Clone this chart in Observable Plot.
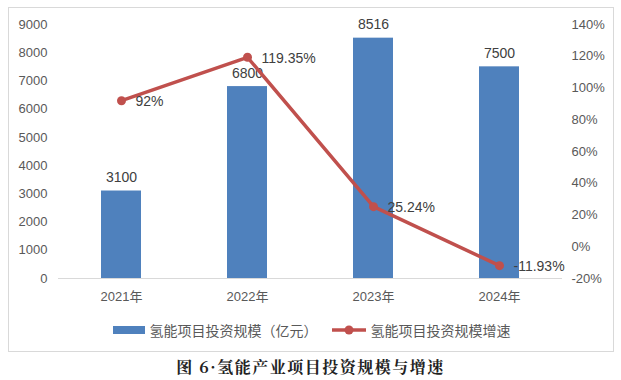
<!DOCTYPE html>
<html><head><meta charset="utf-8">
<script src="https://cdn.jsdelivr.net/npm/d3@7"></script>
<script src="https://cdn.jsdelivr.net/npm/@observablehq/plot@0.6"></script>
<style>
body{margin:0;background:#fff;font-family:"Liberation Sans","Noto Sans CJK SC",sans-serif;}
#wrap{position:relative;width:621px;height:380px;overflow:hidden;}
#frame{position:absolute;left:8px;top:7px;width:606px;height:345px;border:1px solid #d9d9d9;box-sizing:border-box;}
#chart{position:absolute;left:0;top:0;}
#legend{position:absolute;left:0;top:320px;width:621px;display:flex;justify-content:center;align-items:center;font-size:14px;color:#595959;font-family:"Noto Sans CJK SC",sans-serif;}
#legend .item{display:flex;align-items:center;margin:0 6px;}
#caption{position:absolute;left:0;top:355px;width:621px;text-align:center;font-size:16px;font-weight:bold;color:#222;font-family:"Noto Serif CJK SC",serif,"Noto Sans CJK SC";letter-spacing:1.5px;}
</style></head>
<body>
<div id="wrap">
  <div id="frame"></div>
  <div id="chart"></div>
  <div id="legend"></div>
  <div id="caption">图 6·氢能产业项目投资规模与增速</div>
</div>
<script>
const years = ["2021年","2022年","2023年","2024年"];
const investment = [3100, 6800, 8516, 7500];
const growth = [92, 119.35, 25.24, -11.93];
const growthLabels = ["92%","119.35%","25.24%","-11.93%"];
const leftTicks = [0,1000,2000,3000,4000,5000,6000,7000,8000,9000];
const rightTicks = [-20,0,20,40,60,80,100,120,140];
const seriesNames = ["氢能项目投资规模（亿元）","氢能项目投资规模增速"];

const barColor = "#4F81BD", lineColor = "#C0504D";
const yMax = 9000, pMin = -20, pMax = 140;
const toY = p => (p - pMin) / (pMax - pMin) * yMax;
const fromY = v => Math.round(v / yMax * (pMax - pMin) + pMin);

const data = years.map((y, i) => ({year: y, inv: investment[i], g: growth[i], gy: toY(growth[i]), gl: growthLabels[i]}));

const chart = Plot.plot({
  width: 621, height: 310,
  marginTop: 24, marginBottom: 32, marginLeft: 58, marginRight: 59,
  style: {fontFamily: '"Liberation Sans","Noto Sans CJK SC",sans-serif', fontSize: "13px", color: "#595959", background: "transparent"},
  x: {domain: years, paddingInner: 0.68, paddingOuter: 0.34},
  y: {domain: [0, yMax]},
  marks: [
    Plot.axisY(leftTicks, {anchor: "left", tickSize: 0, tickPadding: 11, label: null, fontSize: 13, tickFormat: d => String(d)}),
    Plot.axisY(rightTicks.map(toY), {anchor: "right", tickSize: 0, tickPadding: 9, label: null, fontSize: 13, tickFormat: d => fromY(d) + "%"}),
    Plot.axisX({tickSize: 0, tickPadding: 13, label: null, fontSize: 13}),
    Plot.barY(data, {x: "year", y: "inv", fill: barColor}),
    Plot.ruleY([0], {stroke: "#d9d9d9", strokeWidth: 1}),
    Plot.text(data, {x: "year", y: "inv", text: d => String(d.inv), lineAnchor: "bottom", dy: -9, fontSize: 14, fill: "#404040"}),
    Plot.line(data, {x: "year", y: "gy", stroke: lineColor, strokeWidth: 3.5}),
    Plot.dot(data, {x: "year", y: "gy", r: 4.5, fill: lineColor, stroke: "none"}),
    Plot.text(data, {x: "year", y: "gy", text: "gl", textAnchor: "start", dx: 14, dy: 1, fontSize: 14, fill: "#404040"})
  ]
});
document.getElementById("chart").appendChild(chart);

const legend = document.getElementById("legend");
legend.innerHTML = `
<div class="item"><svg width="36" height="12"><rect x="2" y="2" width="32" height="8" fill="${barColor}"/></svg><span style="margin-left:3px">${seriesNames[0]}</span></div>
<div class="item"><svg width="38" height="12"><line x1="2" y1="6" x2="36" y2="6" stroke="${lineColor}" stroke-width="3.5"/><circle cx="19" cy="6" r="4.5" fill="${lineColor}"/></svg><span style="margin-left:3px">${seriesNames[1]}</span></div>`;
</script>
</body></html>
